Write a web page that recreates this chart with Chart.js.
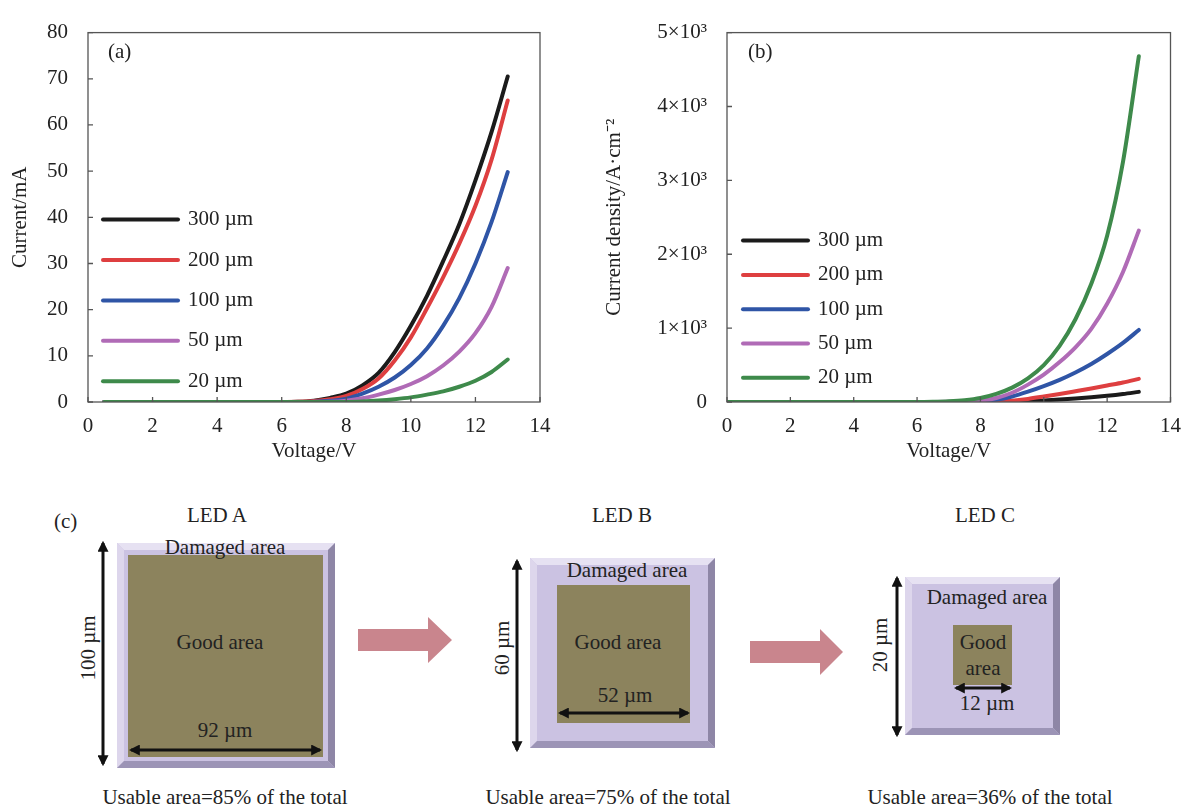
<!DOCTYPE html>
<html>
<head>
<meta charset="utf-8">
<script src="https://cdn.jsdelivr.net/npm/chart.js@4.4.1/dist/chart.umd.min.js"></script>
<style>
  html, body { margin: 0; padding: 0; background: #fff; }
  body { width: 1193px; height: 808px; position: relative; overflow: hidden; }
  #boxA { position: absolute; left: 0; top: 0; width: 580px; height: 480px; }
  #boxB { position: absolute; left: 590px; top: 0; width: 603px; height: 480px; }
  #diagram { position: absolute; left: 0; top: 480px; }
  #diagram text { font-family: "Liberation Serif", "Times New Roman", serif; font-size: 21px; fill: #222; }
</style>
</head>
<body>
<div id="boxA"><canvas id="chartA" width="580" height="480"></canvas></div>
<div id="boxB"><canvas id="chartB" width="603" height="480"></canvas></div>

<svg id="diagram" width="1193" height="328" viewBox="0 480 1193 328">
  <defs>
    <marker id="head" viewBox="0 0 10 10" refX="8" refY="5" markerWidth="11" markerHeight="11"
            markerUnits="userSpaceOnUse" orient="auto-start-reverse">
      <path d="M0,0 L10,5 L0,10 z" fill="#111"/>
    </marker>
  </defs>

  <text x="54" y="521" dominant-baseline="central">(c)</text>

  <!-- LED A -->
  <text x="217" y="515" text-anchor="middle" dominant-baseline="central">LED A</text>
  <rect x="117" y="543" width="218" height="225" fill="#cbc2e2"/>
  <polygon points="117,543 335,543 328,550 124,550" fill="#e6e1f2"/>
  <polygon points="117,543 124,550 124,761 117,768" fill="#ddd6ec"/>
  <polygon points="335,543 335,768 328,761 328,550" fill="#8e86a6"/>
  <polygon points="117,768 335,768 328,761 124,761" fill="#9c94b6"/>
  <rect x="128" y="555" width="195" height="202" fill="#8c835d"/>
  <text x="225" y="547" text-anchor="middle" dominant-baseline="central">Damaged area</text>
  <text x="220" y="642" text-anchor="middle" dominant-baseline="central">Good area</text>
  <text x="225" y="730" text-anchor="middle" dominant-baseline="central">92 µm</text>
  <line x1="131" y1="750" x2="320" y2="750" stroke="#111" stroke-width="3" marker-start="url(#head)" marker-end="url(#head)"/>
  <line x1="103" y1="543" x2="103" y2="764" stroke="#111" stroke-width="3" marker-start="url(#head)" marker-end="url(#head)"/>
  <text x="88" y="648" text-anchor="middle" dominant-baseline="central" transform="rotate(-90 88 648)">100 µm</text>
  <text x="225" y="797" text-anchor="middle" dominant-baseline="central">Usable area=85% of the total</text>

  <polygon points="358,629 428,629 428,617 452,640 428,663 428,651 358,651" fill="#c9858d"/>

  <!-- LED B -->
  <text x="622" y="515" text-anchor="middle" dominant-baseline="central">LED B</text>
  <rect x="530" y="558" width="185" height="190" fill="#cbc2e2"/>
  <polygon points="530,558 715,558 708,565 537,565" fill="#e6e1f2"/>
  <polygon points="530,558 537,565 537,741 530,748" fill="#ddd6ec"/>
  <polygon points="715,558 715,748 708,741 708,565" fill="#8e86a6"/>
  <polygon points="530,748 715,748 708,741 537,741" fill="#9c94b6"/>
  <rect x="557" y="585" width="133" height="138" fill="#8c835d"/>
  <text x="627" y="570" text-anchor="middle" dominant-baseline="central">Damaged area</text>
  <text x="618" y="642" text-anchor="middle" dominant-baseline="central">Good area</text>
  <text x="625" y="695" text-anchor="middle" dominant-baseline="central">52 µm</text>
  <line x1="560" y1="713" x2="688" y2="713" stroke="#111" stroke-width="3" marker-start="url(#head)" marker-end="url(#head)"/>
  <line x1="517" y1="561" x2="517" y2="750" stroke="#111" stroke-width="3" marker-start="url(#head)" marker-end="url(#head)"/>
  <text x="502" y="648" text-anchor="middle" dominant-baseline="central" transform="rotate(-90 502 648)">60 µm</text>
  <text x="608" y="797" text-anchor="middle" dominant-baseline="central">Usable area=75% of the total</text>

  <polygon points="750,641 820,641 820,629 843,652 820,675 820,663 750,663" fill="#c9858d"/>

  <!-- LED C -->
  <text x="985" y="515" text-anchor="middle" dominant-baseline="central">LED C</text>
  <rect x="905" y="577" width="155" height="158" fill="#cbc2e2"/>
  <polygon points="905,577 1060,577 1053,584 912,584" fill="#e6e1f2"/>
  <polygon points="905,577 912,584 912,728 905,735" fill="#ddd6ec"/>
  <polygon points="1060,577 1060,735 1053,728 1053,584" fill="#8e86a6"/>
  <polygon points="905,735 1060,735 1053,728 912,728" fill="#9c94b6"/>
  <rect x="953" y="625" width="59" height="60" fill="#8c835d"/>
  <text x="987" y="597" text-anchor="middle" dominant-baseline="central">Damaged area</text>
  <text x="983" y="642" text-anchor="middle" dominant-baseline="central">Good</text>
  <text x="983" y="668" text-anchor="middle" dominant-baseline="central">area</text>
  <text x="987" y="703" text-anchor="middle" dominant-baseline="central">12 µm</text>
  <line x1="956" y1="688" x2="1010" y2="688" stroke="#111" stroke-width="3" marker-start="url(#head)" marker-end="url(#head)"/>
  <line x1="897" y1="578" x2="897" y2="735" stroke="#111" stroke-width="3" marker-start="url(#head)" marker-end="url(#head)"/>
  <text x="880" y="645" text-anchor="middle" dominant-baseline="central" transform="rotate(-90 880 645)">20 µm</text>
  <text x="990" y="797" text-anchor="middle" dominant-baseline="central">Usable area=36% of the total</text>
</svg>

<script>
/* ---- data ---- */
var sizes  = ["300 µm", "200 µm", "100 µm", "50 µm", "20 µm"];
var colors = ["#1b1b1b", "#de3f40", "#2f55a6", "#b06bb6", "#3e8a4b"];

/* (a) current vs voltage */
var voltsA  = [0.5, 6, 6.5, 7, 7.5, 8, 8.5, 9, 9.5, 10, 10.5, 11, 11.5, 12, 12.5, 13];
var curr300 = [0, 0, 0.05, 0.3, 0.9, 1.8, 3.6, 6.3, 10.8, 16.5, 23.0, 30.5, 38.5, 48.0, 58.5, 70.5];
var curr200 = [0, 0, 0.03, 0.2, 0.6, 1.3, 2.8, 5.1, 9.0, 14.0, 20.3, 27.0, 34.3, 42.5, 52.5, 65.3];
var curr100 = [0, 0, 0, 0.05, 0.25, 0.7, 1.8, 3.3, 5.3, 8.0, 11.6, 16.5, 22.5, 30.0, 39.0, 49.8];
var curr50  = [0, 0, 0, 0, 0.05, 0.3, 0.8, 1.6, 2.6, 3.9, 5.6, 7.9, 10.9, 14.9, 20.6, 29.0];
var curr20  = [0, 0, 0, 0, 0, 0, 0.1, 0.3, 0.6, 1.0, 1.6, 2.3, 3.3, 4.6, 6.5, 9.2];

/* (b) current density vs voltage */
var voltsB  = [0, 6, 6.5, 7, 7.5, 8, 8.5, 9, 9.5, 10, 10.5, 11, 11.5, 12, 12.5, 13];
var dens300 = [0, 0, 0, 0, 0, 0, 2, 6, 12, 22, 34, 48, 64, 84, 108, 137];
var dens200 = [0, 0, 0, 0, 0, 2, 6, 18, 42, 74, 108, 145, 183, 224, 265, 313];
var dens100 = [0, 0, 0, 0, 3, 10, 30, 75, 140, 215, 300, 400, 515, 650, 800, 975];
var dens50  = [0, 0, 0, 2, 8, 20, 55, 125, 235, 370, 540, 740, 990, 1330, 1760, 2320];
var dens20  = [0, 0, 3, 10, 25, 55, 110, 195, 320, 500, 760, 1120, 1600, 2250, 3250, 4680];

var yTicksB = ["0", "1×10³", "2×10³", "3×10³", "4×10³", "5×10³"];

var serif = '"Liberation Serif", "Times New Roman", serif';
Chart.defaults.font.family = serif;
Chart.defaults.font.size = 21;
Chart.defaults.color = "#222";

function series(xs, ys) {
  return xs.map(function (x, i) { return { x: x, y: ys[i] }; });
}

function makeSets(xs, all) {
  return all.map(function (ys, i) {
    return {
      label: sizes[i],
      data: series(xs, ys),
      borderColor: colors[i],
      borderWidth: 4,
      borderCapStyle: "round",
      pointRadius: 0,
      cubicInterpolationMode: "monotone",
      fill: false
    };
  }).reverse();   // draw 300 µm last, on top
}

/* box frame, inward ticks, panel tag and in-plot legend */
var framePlugin = {
  id: "frame",
  afterDraw: function (chart, args, o) {
    var ctx = chart.ctx, a = chart.chartArea, sx = chart.scales.x, sy = chart.scales.y;
    ctx.save();
    ctx.strokeStyle = "#555";
    ctx.lineWidth = 1.3;
    ctx.strokeRect(a.left, a.top, a.right - a.left, a.bottom - a.top);
    ctx.beginPath();
    sx.ticks.forEach(function (t) {
      var px = sx.getPixelForValue(t.value);
      ctx.moveTo(px, a.bottom); ctx.lineTo(px, a.bottom - 5);
    });
    sy.ticks.forEach(function (t) {
      var py = sy.getPixelForValue(t.value);
      ctx.moveTo(a.left, py); ctx.lineTo(a.left + 5, py);
    });
    ctx.stroke();

    ctx.fillStyle = "#222";
    ctx.font = "21px " + serif;
    ctx.textBaseline = "middle";
    ctx.fillText(o.tag, a.left + o.tagX, a.top + 20);

    sizes.forEach(function (s, i) {
      var y = a.top + o.legY + i * o.legGap;
      ctx.strokeStyle = colors[i];
      ctx.lineWidth = 4;
      ctx.lineCap = "round";
      ctx.beginPath();
      ctx.moveTo(a.left + o.legX, y);
      ctx.lineTo(a.left + o.legX + o.legLen, y);
      ctx.stroke();
      ctx.fillText(s, a.left + o.legX + o.legLen + 10, y);
    });
    ctx.restore();
  }
};

function baseOptions(yMax, yStep, yTitle, yWidth, yTitlePad, padRight, tickCb, frameOpts) {
  return {
    responsive: false,
    animation: false,
    layout: { padding: { left: 0, right: padRight, top: 25, bottom: 0 } },
    plugins: { legend: { display: false }, tooltip: { enabled: false }, frame: frameOpts },
    scales: {
      x: {
        type: "linear", min: 0, max: 14,
        ticks: { stepSize: 2, padding: 12 },
        grid: { display: false, drawTicks: false },
        border: { display: false },
        title: { display: true, text: "Voltage/V", padding: { top: 0, bottom: 16 } },
        afterFit: function (s) { s.height = 78; }
      },
      y: {
        min: 0, max: yMax,
        ticks: { stepSize: yStep, padding: 20, callback: tickCb },
        grid: { display: false, drawTicks: false },
        border: { display: false },
        title: { display: true, text: yTitle, padding: { top: yTitlePad, bottom: 0 } },
        afterFit: function (s) { s.width = yWidth; }
      }
    }
  };
}

new Chart(document.getElementById("chartA"), {
  type: "line",
  data: { datasets: makeSets(voltsA, [curr300, curr200, curr100, curr50, curr20]) },
  options: baseOptions(80, 10, "Current/mA", 88, 8, 40,
    function (v) { return v; },
    { tag: "(a)", tagX: 20, legX: 15, legLen: 75, legY: 187, legGap: 40.4 }),
  plugins: [framePlugin]
});

new Chart(document.getElementById("chartB"), {
  type: "line",
  data: { datasets: makeSets(voltsB, [dens300, dens200, dens100, dens50, dens20]) },
  options: baseOptions(5000, 1000, "Current density/A·cm⁻²", 137, 12, 13,
    function (v) { return yTicksB[Math.round(v / 1000)]; },
    { tag: "(b)", tagX: 21, legX: 16, legLen: 65, legY: 208, legGap: 34.3 }),
  plugins: [framePlugin]
});
</script>
</body>
</html>
